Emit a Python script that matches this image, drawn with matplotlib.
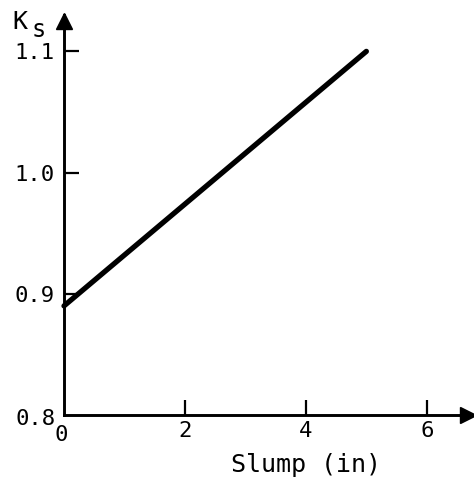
import matplotlib
matplotlib.use("Agg")
import matplotlib.pyplot as plt

# Slump correction factor K_s versus slump
slump_in = [0, 5]
k_s = [0.89, 1.10]

x_ticks = [2, 4, 6]
y_ticks = [0.9, 1.0, 1.1]
y_tick_labels = ["0.9", "1.0", "1.1"]

W, H = 474, 480
fig = plt.figure(figsize=(W / 100, H / 100), dpi=100)
ax = fig.add_axes([64 / W, (H - 415) / H, 410 / W, 400 / H])
ax.set_xlim(0, 6.78)
ax.set_ylim(0.8, 1.13)

font = dict(family="DejaVu Sans Mono", color="black")

ax.plot(slump_in, k_s, color="black", lw=3.8, solid_capstyle="round", clip_on=False)

for side in ("top", "right"):
    ax.spines[side].set_visible(False)
for side in ("left", "bottom"):
    ax.spines[side].set_linewidth(2.1)

# arrow heads on the axes
ax.plot(0.985, 0, ">", color="black", ms=11, transform=ax.transAxes, clip_on=False)
ax.plot(0, 0.985, "^", color="black", ms=11, transform=ax.transAxes, clip_on=False)

ax.set_xticks(x_ticks)
ax.set_xticklabels([str(v) for v in x_ticks], fontsize=16, **font)
ax.set_yticks(y_ticks)
ax.set_yticklabels(y_tick_labels, fontsize=16, **font)
ax.tick_params(axis="both", direction="in", length=10.5, width=1.6, colors="black")
ax.tick_params(axis="x", pad=4)
ax.tick_params(axis="y", pad=7)

# origin labels
ax.text(-0.14, 0.8 - 0.003, "0.8", ha="right", va="center", fontsize=16, **font)
ax.text(-0.05, 0.8 - 0.008, "0", ha="center", va="top", fontsize=16, **font)

# axis titles
fig.text(306 / W, 1 - 472 / H, "Slump (in)", fontsize=18, ha="center",
         va="baseline", **font)
fig.text(12 / W, 1 - 29 / H, "K", fontsize=18, ha="left", va="baseline", **font)
fig.text(32 / W, 1 - 37 / H, "s", fontsize=17, ha="left", va="baseline", **font)

fig.savefig("out.png", dpi=100)
